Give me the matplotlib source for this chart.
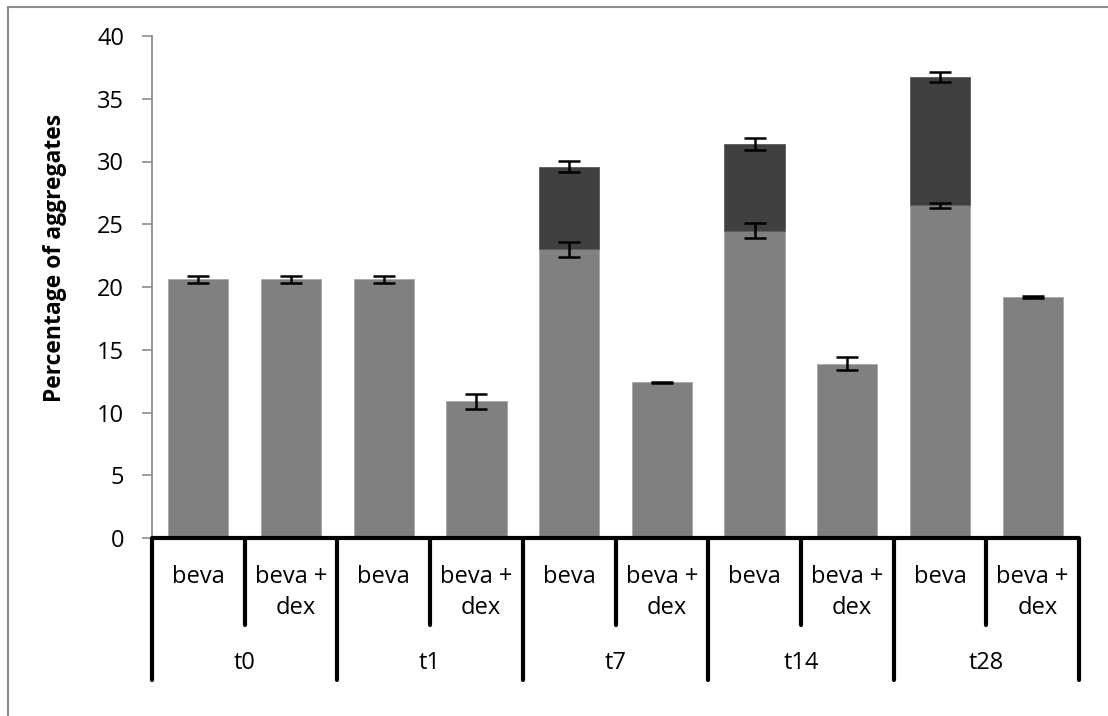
import matplotlib
matplotlib.use("Agg")
import matplotlib.pyplot as plt
from matplotlib.lines import Line2D
import numpy as np

plt.rcParams['font.family'] = ['Open Sans', 'DejaVu Sans']

# Data
timepoints = ["t0", "t1", "t7", "t14", "t28"]
treatments = ["beva", "beva +\ndex"]
lower_vals = [20.6, 20.6, 20.6, 10.9, 23.0, 12.4, 24.5, 13.9, 26.5, 19.2]
lower_err = [0.3, 0.3, 0.3, 0.6, 0.6, 0.05, 0.6, 0.5, 0.2, 0.05]
upper_vals = [0, 0, 0, 0, 6.6, 0, 6.9, 0, 10.2, 0]   # stacked on top of lower
upper_err = [0, 0, 0, 0, 0.45, 0, 0.5, 0, 0.4, 0]
yticks = [0, 5, 10, 15, 20, 25, 30, 35, 40]

W, H = 1108, 716
fig = plt.figure(figsize=(W / 100, H / 100), dpi=100)
FS = 17

def px_axes(x0, y0, x1, y1):
    return fig.add_axes([x0 / W, 1 - y1 / H, (x1 - x0) / W, (y1 - y0) / H])

# Chart-area frame (top and left edges)
fig.add_artist(Line2D([8 / W, 8 / W], [0, 1 - 7 / H], transform=fig.transFigure,
                      color="#8c8c8c", lw=1.5))
fig.add_artist(Line2D([8 / W, 1], [1 - 7 / H, 1 - 7 / H], transform=fig.transFigure,
                      color="#8c8c8c", lw=1.5))

x_left, x_right, y_zero, y_top = 152, 1079, 538, 36
ax = px_axes(x_left, y_top, x_right, y_zero)

x = np.arange(len(lower_vals))
bw = 0.65
ax.bar(x, lower_vals, width=bw, color="#808080", edgecolor="#a6a6a6", linewidth=0.6, zorder=2)
totals = [l + u for l, u in zip(lower_vals, upper_vals)]
has_upper = [i for i, u in enumerate(upper_vals) if u > 0]
ax.bar(x[has_upper], [upper_vals[i] for i in has_upper], bottom=[lower_vals[i] for i in has_upper],
       width=bw, color="#404040", edgecolor="#5a5a5a", linewidth=0.6, zorder=2)

ax.errorbar(x, lower_vals, yerr=lower_err, fmt="none", ecolor="black",
            elinewidth=1.8, capsize=8, capthick=1.8, zorder=3)
ax.errorbar(x[has_upper], [totals[i] for i in has_upper], yerr=[upper_err[i] for i in has_upper],
            fmt="none", ecolor="black", elinewidth=1.8, capsize=8, capthick=1.8, zorder=3)

ax.set_xlim(-0.5, len(x) - 0.5)
ax.set_ylim(0, 40)
ax.set_yticks(yticks)
ax.set_yticklabels([str(v) for v in yticks], fontsize=FS)
ax.tick_params(axis="y", direction="out", length=7, width=1.2, color="#8c8c8c", pad=13)
ax.set_xticks([])
for s in ["top", "right", "bottom"]:
    ax.spines[s].set_visible(False)
ax.spines["left"].set_color("#8c8c8c")
ax.spines["left"].set_linewidth(1.3)
ax.set_ylabel("Percentage of aggregates", fontsize=16.5, fontweight="bold")
ax.yaxis.set_label_coords(-(x_left - 67) / (x_right - x_left), (y_zero - 258) / (y_zero - y_top))

# Two-level category axis below the plot; y in image pixel rows
cat = px_axes(x_left - 10, y_zero - 3, x_right + 10, 700)
cat.set_xlim(-0.5 - 10 / 92.7, len(x) - 0.5 + 10 / 92.7)
cat.set_ylim(700, y_zero - 3)
cat.axis("off")
lw = 3.0
cat.plot([-0.5, len(x) - 0.5], [y_zero, y_zero], color="black", lw=lw, solid_capstyle="butt")
for b in range(len(x) + 1):
    xb = b - 0.5
    bottom = 680 if b % 2 == 0 else 625
    cat.plot([xb, xb], [y_zero, bottom], color="black", lw=lw, solid_capstyle="round")
for i in range(len(x)):
    label = treatments[i % 2]
    if "\n" in label:
        cat.text(i, 577, "beva +", ha="center", va="center", fontsize=FS)
        cat.text(i + 0.05, 608, "dex", ha="center", va="center", fontsize=FS)
    else:
        cat.text(i, 577, label, ha="center", va="center", fontsize=FS)
for j, t in enumerate(timepoints):
    cat.text(2 * j + 0.5, 663, t, ha="center", va="center", fontsize=FS)

fig.savefig("out.png", dpi=100)
